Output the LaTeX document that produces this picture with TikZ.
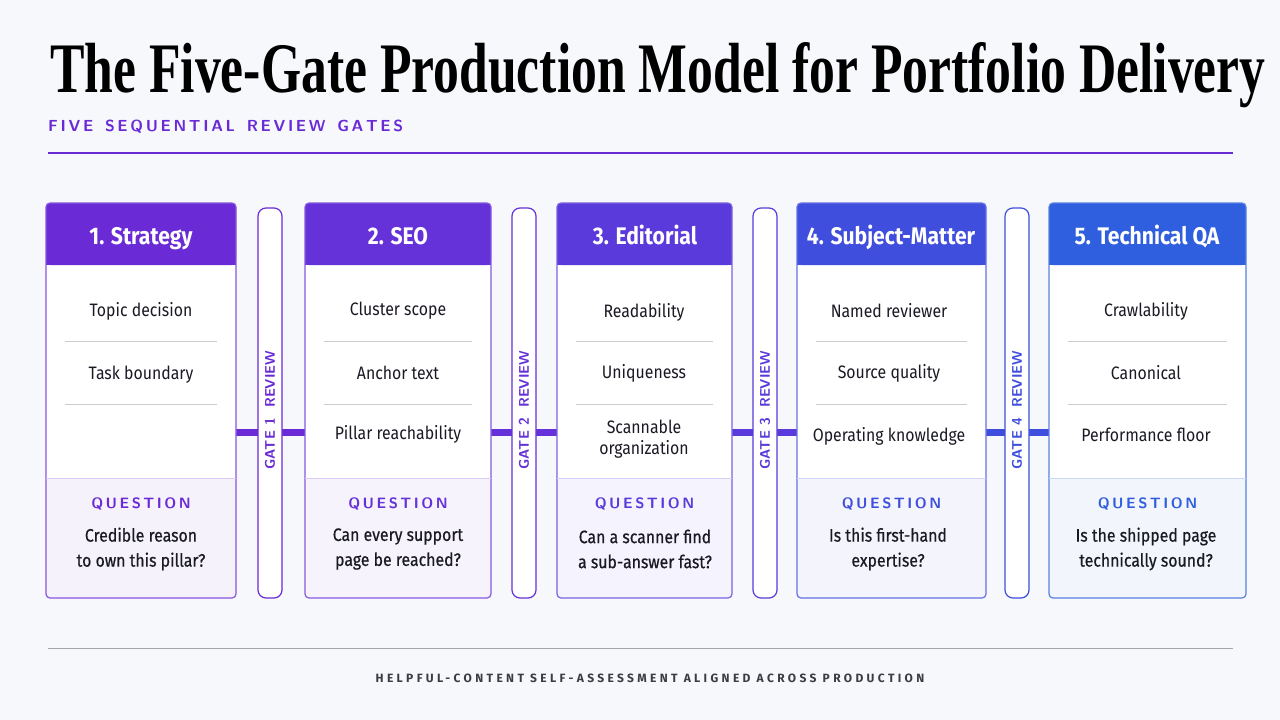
\documentclass[tikz,border=0pt]{standalone}
\usepackage{fontspec}
\setmainfont{Fira Sans}
\newfontfamily\titlefont{Liberation Serif}
\newfontfamily\condfont{Fira Sans}[FakeStretch=0.88]
\newfontfamily\condmed{Fira Sans}[FakeStretch=0.88,FakeBold=0.6]
\newfontfamily\footfont{Fira Sans}[LetterSpace=28]
\definecolor{cA}{HTML}{6A2BD6}
\definecolor{cB}{HTML}{6531D8}
\definecolor{cC}{HTML}{5A3ADB}
\definecolor{cD}{HTML}{3F4EDD}
\definecolor{cE}{HTML}{2F5FDE}
\definecolor{bg}{HTML}{F7F8FB}
\definecolor{ink}{HTML}{1A1A24}
\begin{document}
\begin{tikzpicture}[x=1pt,y=-1pt,
  hdr/.style={font=\condfont\bfseries\fontsize{24}{28}\selectfont,text=white,anchor=base},
  item/.style={font=\condfont\fontsize{18}{21}\selectfont,text=ink,align=center},
  qlab/.style={font=\sffamily\bfseries\fontsize{15}{18}\selectfont},
  qtxt/.style={font=\condmed\fontsize{18}{25}\selectfont,text=ink,align=center},
  gate/.style={font=\sffamily\bfseries\fontsize{14}{16}\selectfont,rotate=90}]
\fill[bg] (0,0) rectangle (1280,720);
\useasboundingbox (0,0) rectangle (1280,720);
\node[anchor=west,inner sep=0] (title) at (50,75) {\resizebox{1215pt}{50pt}{\titlefont\bfseries The Five-Gate Production Model for Portfolio Delivery}};
\node[anchor=west,inner sep=0,text=cA] (sub) at (48,127) {\sffamily\bfseries\fontsize{16}{18}\selectfont F\,I\,V\,E\ \ S\,E\,Q\,U\,E\,N\,T\,I\,A\,L\ \ R\,E\,V\,I\,E\,W\ \ G\,A\,T\,E\,S};
\draw[cA,line width=1.5] (48,153) -- (1233,153);
\draw[gray!70,line width=1] (48,648) -- (1233,648);
\node[text=ink!85] (foot) at (650,678) {\footfont\bfseries\fontsize{12}{14}\selectfont HELPFUL-CONTENT SELF-ASSESSMENT ALIGNED ACROSS PRODUCTION};
% connector bars
\foreach \xa/\xb/\c in {236/305/cA,491/557/cB,732/797/cC,986/1049/cD}
  \fill[\c] (\xa,429) rectangle (\xb,436);
% gate pills
\foreach \x/\n/\c in {270/1/cA,524/2/cB,765/3/cC,1017/4/cD}{
  \draw[\c,fill=white,line width=1.2,rounded corners=8] (\x-12,208) rectangle (\x+12,598);
  \node[gate,text=\c] (g\n) at (\x,410) {GATE \n\ \ REVIEW};
}
% cards
\foreach \xl/\xr/\c/\n in {46/236/cA/1,305/491/cB/2,557/732/cC/3,797/986/cD/4,1049/1246/cE/5}{
  \fill[white,rounded corners=4] (\xl,203) rectangle (\xr,598);
  \fill[\c!6,rounded corners=4] (\xl,478) rectangle (\xr,598);
  \fill[\c!6] (\xl,478) rectangle (\xr,490);
  \fill[\c,rounded corners=4] (\xl,203) rectangle (\xr,265);
  \fill[\c] (\xl,250) rectangle (\xr,265);
  \draw[\c!80,line width=1.2,rounded corners=4] (\xl,203) rectangle (\xr,598);
  \draw[\c!25] (\xl,478) -- (\xr,478);
  \draw[gray!40] (\xl+19,341) -- (\xr-19,341);
  \draw[gray!40] (\xl+19,404) -- (\xr-19,404);
  \node[qlab,text=\c] (q\n) at ({(\xl+\xr)/2},504) {Q\,U\,E\,S\,T\,I\,O\,N};
}
\node[hdr] (h1) at (141,244) {1. Strategy};
\node[hdr] (h2) at (398,244) {2. SEO};
\node[hdr] (h3) at (645,244) {3. Editorial};
\node[hdr] (h4) at (891,244) {4. Subject-Matter};
\node[hdr] (h5) at (1147,244) {5. Technical QA};
\node[item] (a1) at (141,311) {Topic decision};
\node[item] (a2) at (141,375) {Task boundary};
\node[item] (b1) at (398,311) {Cluster scope};
\node[item] (b2) at (398,373) {Anchor text};
\node[item] (b3) at (398,434) {Pillar reachability};
\node[item] (c1) at (644,312) {Readability};
\node[item] (c2) at (644,373) {Uniqueness};
\node[item] (c3) at (644,439) {Scannable\\organization};
\node[item] (d1) at (889,311) {Named reviewer};
\node[item] (d2) at (889,373) {Source quality};
\node[item] (d3) at (889,436) {Operating knowledge};
\node[item] (e1) at (1146,311) {Crawlability};
\node[item] (e2) at (1146,373) {Canonical};
\node[item] (e3) at (1146,435) {Performance floor};
\node[qtxt] (t1) at (141,549) {Credible reason\\to own this pillar?};
\node[qtxt] (t2) at (398,549) {Can every support\\page be reached?};
\node[qtxt] (t3) at (645,549) {Can a scanner find\\a sub-answer fast?};
\node[qtxt] (t4) at (888,549) {Is this first-hand\\expertise?};
\node[qtxt] (t5) at (1146,549) {Is the shipped page\\technically sound?};
\end{tikzpicture}
\end{document}
